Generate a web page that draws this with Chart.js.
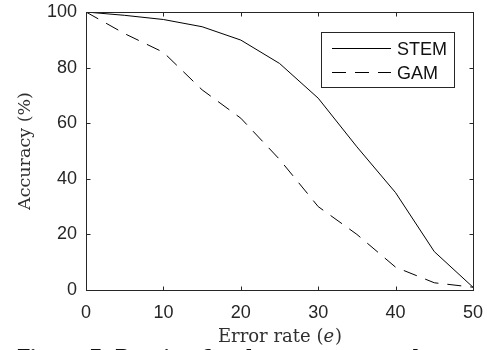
<!DOCTYPE html>
<html>
<head>
<meta charset="utf-8">
<script src="https://cdn.jsdelivr.net/npm/chart.js@4.4.1/dist/chart.umd.min.js"></script>
<style>
  html, body { margin: 0; padding: 0; background: #fff; overflow: hidden; }
  #wrap { position: relative; width: 487px; height: 350px; }
</style>
</head>
<body>
<div id="wrap"><canvas id="c" width="487" height="350"></canvas></div>
<script>
// ---- data ----
const errorRate = [0, 5, 10, 15, 20, 25, 30, 35, 40, 45, 50];
const stemAccuracy = [100, 98.8, 97.3, 94.7, 89.9, 81.5, 69, 51.5, 35, 13.8, 1];
const gamAccuracy  = [100, 92.2, 85.5, 72, 61.8, 47, 30, 20, 8.2, 2.6, 1];
const seriesNames = ['STEM', 'GAM'];
const xTicks = [0, 10, 20, 30, 40, 50];
const yTicks = [0, 20, 40, 60, 80, 100];
const xTitleParts = ['Error rate (', 'e', ')'];
const yTitle = 'Accuracy (%)';
const caption = 'Figure 7: Routing for the error rate and accuracy';

const AXIS = '#262626';
const SANS = '"Liberation Sans", Arial, sans-serif';
const SERIF = '"DejaVu Serif", serif';

const toPts = (xs, ys) => xs.map((x, i) => ({ x: x, y: ys[i] }));

const framePlugin = {
  id: 'frame',
  afterDraw(chart) {
    const ctx = chart.ctx;
    const a = chart.chartArea;
    const xs = chart.scales.x, ys = chart.scales.y;
    const L = Math.round(a.left) + 0.5, R = Math.round(a.right) + 0.5;
    const T = Math.round(a.top) + 0.5, B = Math.round(a.bottom) + 0.5;
    ctx.save();
    ctx.strokeStyle = AXIS;
    ctx.lineWidth = 1;
    ctx.setLineDash([]);
    ctx.strokeRect(L, T, R - L, B - T);
    const tl = 4;
    ctx.beginPath();
    xTicks.forEach(v => {
      const px = Math.round(xs.getPixelForValue(v)) + 0.5;
      ctx.moveTo(px, B); ctx.lineTo(px, B - tl);
      ctx.moveTo(px, T); ctx.lineTo(px, T + tl);
    });
    yTicks.forEach(v => {
      const py = Math.round(ys.getPixelForValue(v)) + 0.5;
      ctx.moveTo(L, py); ctx.lineTo(L + tl, py);
      ctx.moveTo(R, py); ctx.lineTo(R - tl, py);
    });
    ctx.stroke();

    // x axis title with italic e
    const fN = '18px ' + SERIF, fI = 'italic 18px ' + SERIF;
    ctx.fillStyle = '#303030';
    ctx.textBaseline = 'alphabetic';
    ctx.font = fN; const w0 = ctx.measureText(xTitleParts[0]).width;
    ctx.font = fI; const w1 = ctx.measureText(xTitleParts[1]).width;
    ctx.font = fN; const w2 = ctx.measureText(xTitleParts[2]).width;
    const cx = (a.left + a.right) / 2;
    let x0 = cx - (w0 + w1 + w2) / 2;
    const by = 342;
    ctx.textAlign = 'left';
    ctx.font = fN; ctx.fillText(xTitleParts[0], x0, by);
    ctx.font = fI; ctx.fillText(xTitleParts[1], x0 + w0, by);
    ctx.font = fN; ctx.fillText(xTitleParts[2], x0 + w0 + w1 + 1, by);

    // legend box
    const lx = 321.5, ly = 32.5, lw = 133, lh = 55;
    ctx.fillStyle = '#fff';
    ctx.fillRect(lx, ly, lw, lh);
    ctx.strokeStyle = AXIS;
    ctx.strokeRect(lx, ly, lw, lh);
    chart.data.datasets.forEach((ds, i) => {
      const yy = 48.5 + i * 24;
      ctx.save();
      ctx.strokeStyle = ds.borderColor;
      ctx.lineWidth = 1;
      ctx.setLineDash(ds.borderDash || []);
      ctx.beginPath();
      ctx.moveTo(332, yy); ctx.lineTo(391, yy);
      ctx.stroke();
      ctx.restore();
      ctx.fillStyle = '#111';
      ctx.font = '18px ' + SANS;
      ctx.textAlign = 'left';
      ctx.textBaseline = 'alphabetic';
      ctx.fillText(ds.label, 397, yy + 6.5);
    });

    // clipped caption
    ctx.fillStyle = '#111';
    ctx.font = 'bold 18px ' + SERIF;
    ctx.textAlign = 'left';
    ctx.fillText(caption, 17, 362.5);
    ctx.restore();
  }
};

new Chart(document.getElementById('c'), {
  type: 'line',
  data: {
    datasets: [
      { label: seriesNames[0], data: toPts(errorRate, stemAccuracy), borderColor: '#000', borderWidth: 1, pointRadius: 0, fill: false, tension: 0 },
      { label: seriesNames[1], data: toPts(errorRate, gamAccuracy), borderColor: '#000', borderWidth: 1, borderDash: [14, 9], pointRadius: 0, fill: false, tension: 0 }
    ]
  },
  options: {
    responsive: false,
    animation: false,
    devicePixelRatio: 1,
    layout: { padding: { left: 0, right: 14, top: 12, bottom: 0 } },
    plugins: { legend: { display: false }, tooltip: { enabled: false } },
    scales: {
      x: {
        type: 'linear', min: 0, max: 50,
        afterBuildTicks: s => { s.ticks = xTicks.map(v => ({ value: v })); },
        afterFit: s => { s.height = 60; s.paddingLeft = 0; s.paddingRight = 0; },
        grid: { display: false, drawTicks: false },
        border: { display: false },
        ticks: { color: AXIS, font: { family: SANS, size: 18 }, padding: 12, maxRotation: 0 },
        title: { display: false }
      },
      y: {
        min: 0, max: 100,
        afterBuildTicks: s => { s.ticks = yTicks.map(v => ({ value: v })); },
        afterFit: s => { s.width = 86; s.paddingTop = 0; s.paddingBottom = 0; },
        grid: { display: false, drawTicks: false },
        border: { display: false },
        ticks: { color: AXIS, font: { family: SANS, size: 18 }, padding: 9 },
        title: { display: true, text: yTitle, color: '#303030', font: { family: SERIF, size: 17.5 }, padding: { top: 14.5, bottom: 0 } }
      }
    }
  },
  plugins: [framePlugin]
});
</script>
</body>
</html>
